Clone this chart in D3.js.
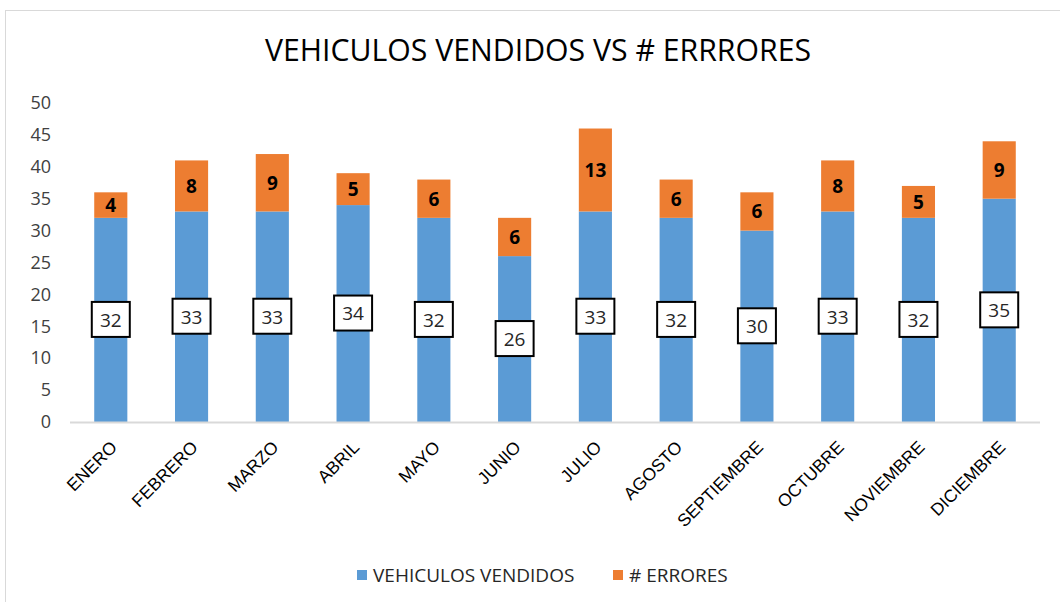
<!DOCTYPE html>
<html>
<head>
<meta charset="utf-8">
<title>Vehiculos vendidos vs errores</title>
<script src="https://cdn.jsdelivr.net/npm/d3@7"></script>
<style>
	body { margin: 0; padding: 0; background: #fff; }
	svg { font-family: "Open Sans", "Liberation Sans", sans-serif; }
</style>
</head>
<body>
<div id="graph"></div>
<script>
// data
var months = ["ENERO", "FEBRERO", "MARZO", "ABRIL", "MAYO", "JUNIO", "JULIO", "AGOSTO", "SEPTIEMBRE", "OCTUBRE", "NOVIEMBRE", "DICIEMBRE"];
var vendidos = [32, 33, 33, 34, 32, 26, 33, 32, 30, 33, 32, 35];
var errores = [4, 8, 9, 5, 6, 6, 13, 6, 6, 8, 5, 9];
var yTicks = [0, 5, 10, 15, 20, 25, 30, 35, 40, 45, 50];

var width = 1060, height = 602;
var margin = { top: 103, right: 20, bottom: 180, left: 70 };
var blue = "#5B9BD5", orange = "#ED7D31";

var svg = d3.select("#graph").append("svg")
	.attr("width", width)
	.attr("height", height);

// chart frame
svg.append("rect")
	.attr("x", 5.5).attr("y", 10.5)
	.attr("width", 1070).attr("height", 620)
	.attr("fill", "#fff")
	.attr("stroke", "#d9d9d9");

svg.append("text")
	.attr("x", 538).attr("y", 61)
	.attr("text-anchor", "middle")
	.attr("font-size", 31)
	.attr("textLength", 546)
	.attr("lengthAdjust", "spacingAndGlyphs")
	.attr("fill", "#000")
	.text("VEHICULOS VENDIDOS VS # ERRRORES");

var x = d3.scaleBand().domain(months).range([margin.left, 1040]).paddingInner(0.59).paddingOuter(0.3);
var y = d3.scaleLinear().domain([0, 50]).range([422, 103]);

var data = months.map(function (m, i) {
	return { month: m, v: vendidos[i], e: errores[i] };
});

// y axis labels (no line)
var yAxis = svg.append("g")
	.attr("transform", "translate(" + 51 + ",0)")
	.call(d3.axisLeft(y).tickValues(yTicks).tickSize(0).tickPadding(0));
yAxis.select(".domain").remove();
yAxis.selectAll("text").attr("font-size", 18).attr("fill", "#404040").attr("font-family", "Open Sans");

// blue segments
svg.selectAll(".bar-v").data(data).enter().append("rect")
	.attr("class", "bar-v")
	.attr("x", function (d) { return x(d.month); })
	.attr("y", function (d) { return y(d.v); })
	.attr("width", x.bandwidth())
	.attr("height", function (d) { return y(0) - y(d.v); })
	.attr("fill", blue);

// orange segments
svg.selectAll(".bar-e").data(data).enter().append("rect")
	.attr("class", "bar-e")
	.attr("x", function (d) { return x(d.month); })
	.attr("y", function (d) { return y(d.v + d.e); })
	.attr("width", x.bandwidth())
	.attr("height", function (d) { return y(d.v) - y(d.v + d.e); })
	.attr("fill", orange);

// x axis
var xAxis = svg.append("g")
	.attr("transform", "translate(0,422)")
	.call(d3.axisBottom(x).tickSize(0).tickPadding(0));
xAxis.select(".domain").remove();
svg.append("line")
	.attr("x1", margin.left).attr("x2", 1040)
	.attr("y1", 422.5).attr("y2", 422.5)
	.attr("stroke", "#d9d9d9").attr("stroke-width", 2);
xAxis.selectAll("text")
	.attr("font-size", 17.5)
	.attr("fill", "#000")
	.attr("text-anchor", "end")
	.attr("dy", "0.35em")
	.attr("transform", "translate(3,22) rotate(-45)");

// boxed labels for vendidos
var vl = svg.selectAll(".lab-v").data(data).enter().append("g")
	.attr("class", "lab-v")
	.attr("transform", function (d) {
		return "translate(" + (x(d.month) + x.bandwidth() / 2) + "," + y(d.v / 2) + ")";
	});
vl.append("rect")
	.attr("x", -19).attr("y", -18)
	.attr("width", 38).attr("height", 35)
	.attr("fill", "#fff").attr("stroke", "#000").attr("stroke-width", 2);
vl.append("text")
	.attr("text-anchor", "middle")
	.attr("dy", "0.36em")
	.attr("font-size", 19)
	.attr("fill", "#262626")
	.text(function (d) { return d.v; });

// bold labels for errores
svg.selectAll(".lab-e").data(data).enter().append("text")
	.attr("class", "lab-e")
	.attr("x", function (d) { return x(d.month) + x.bandwidth() / 2; })
	.attr("y", function (d) { return y(d.v + d.e / 2); })
	.attr("dy", "0.36em")
	.attr("text-anchor", "middle")
	.attr("font-size", 19)
	.attr("font-weight", "bold")
	.attr("fill", "#000")
	.text(function (d) { return d.e; });

// legend
var legend = [{ name: "VEHICULOS VENDIDOS", color: blue, x: 357 }, { name: "# ERRORES", color: orange, x: 613 }];
var lg = svg.selectAll(".legend").data(legend).enter().append("g")
	.attr("transform", function (d) { return "translate(" + d.x + ",575)"; });
lg.append("rect").attr("x", 0).attr("y", -5).attr("width", 10).attr("height", 10)
	.attr("fill", function (d) { return d.color; });
lg.append("text").attr("x", 16).attr("dy", "0.36em")
	.attr("font-size", 19).attr("fill", "#262626")
	.text(function (d) { return d.name; });
</script>
</body>
</html>
